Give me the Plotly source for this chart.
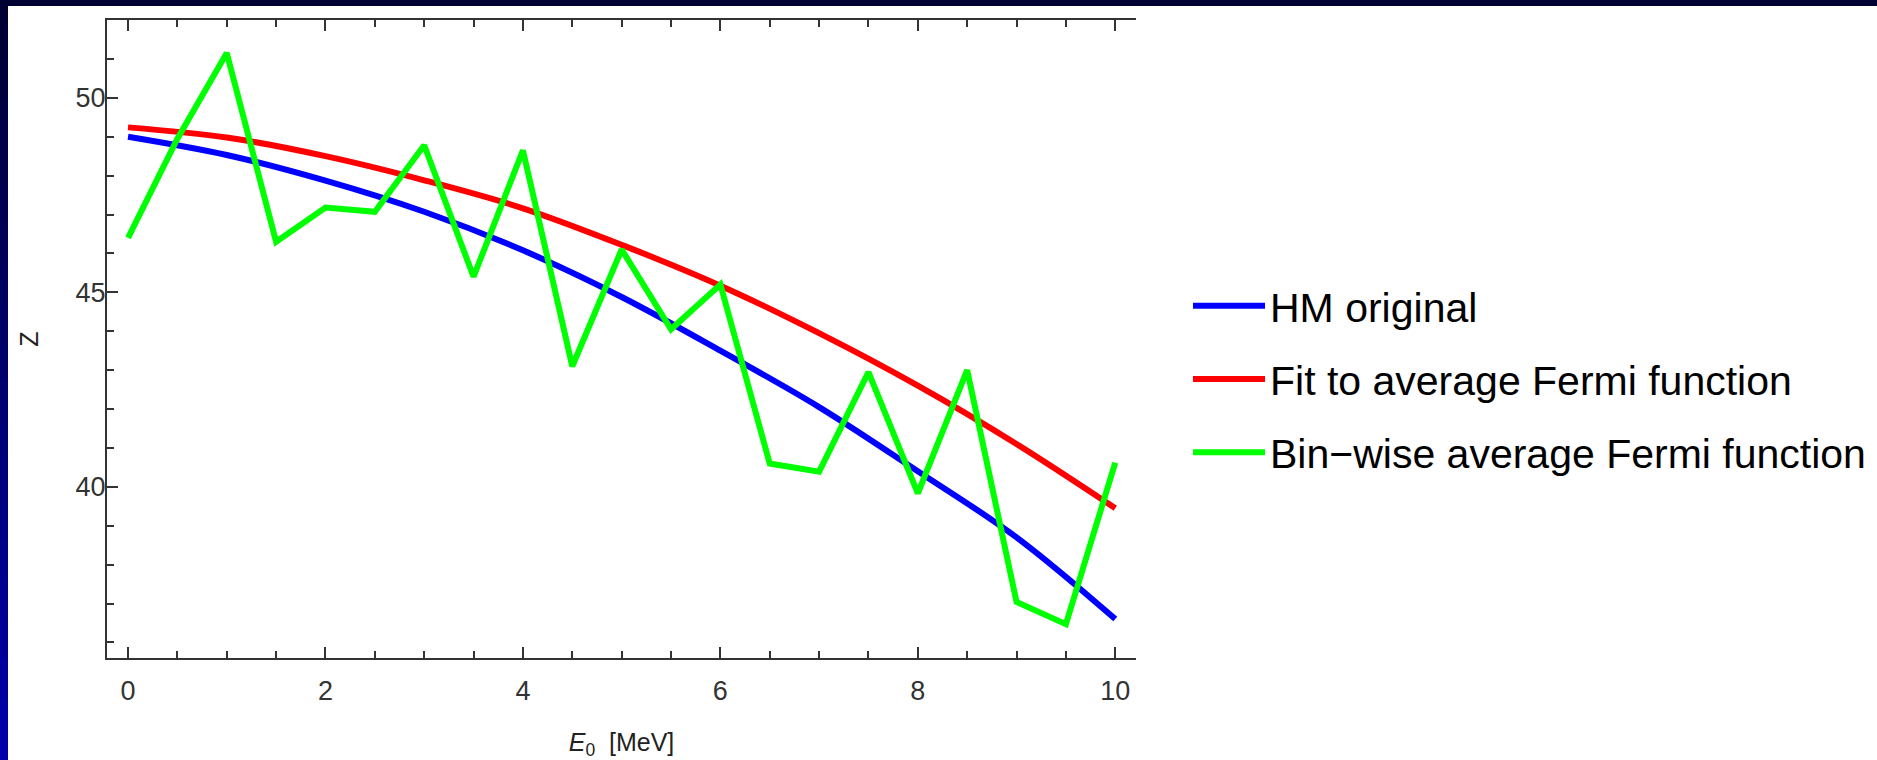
import plotly.graph_objects as go

# ---- data ----
energy_bins = [0, 0.5, 1, 1.5, 2, 2.5, 3, 3.5, 4, 4.5, 5, 5.5, 6, 6.5, 7, 7.5, 8, 8.5, 9, 9.5, 10]
z_binwise = [46.4, 48.95, 51.15, 46.3, 47.18, 47.07, 48.78, 45.4, 48.65, 43.1, 46.1,
             44.05, 45.2, 40.6, 40.39, 42.95, 39.83, 43.0, 37.04, 36.47, 40.62]

energy_curve = [0, 1, 2, 3, 4, 5, 6, 7, 8, 9, 10]
z_hm_original = [49.0, 48.53, 47.87, 47.07, 46.08, 44.88, 43.5, 42.05, 40.4, 38.7, 36.6]
z_fit_average = [49.24, 48.98, 48.5, 47.88, 47.16, 46.22, 45.17, 43.95, 42.6, 41.1, 39.45]

series_names = ["HM original", "Fit to average Fermi function", "Bin\u2212wise average Fermi function"]
x_tick_labels = ["0", "2", "4", "6", "8", "10"]
y_tick_labels = ["40", "45", "50"]

# ---- layout geometry (pixels) ----
W, H = 1877, 760
L, R, T, B = 107, 1136, 20, 658


def px_x(p):
    return (p - L) / (R - L)


def px_y(p):
    return (B - p) / (B - T)


FONT = "Liberation Sans, Arial, Helvetica, sans-serif"
AX = "#333333"
LW = 6

fig = go.Figure()
fig.add_trace(go.Scatter(x=energy_curve, y=z_hm_original, mode="lines", name=series_names[0],
                         line=dict(color="#0000ff", width=LW, shape="spline"), legendgroup="a"))
fig.add_trace(go.Scatter(x=energy_curve, y=z_fit_average, mode="lines", name=series_names[1],
                         line=dict(color="#ff0000", width=LW, shape="spline"), legendgroup="b"))
fig.add_trace(go.Scatter(x=energy_bins, y=z_binwise, mode="lines", name=series_names[2],
                         line=dict(color="#00ff00", width=LW), legendgroup="c"))

# decorative slide frame: dark top strip and blue gradient strip on the left
shapes = [dict(type="rect", xref="paper", yref="paper", x0=px_x(0), x1=px_x(W), y0=px_y(0), y1=px_y(6),
               fillcolor="#000033", line=dict(width=0), layer="above")]
n = 38
for i in range(n):
    t = i / (n - 1)
    col = "rgb(0,0,%d)" % int(51 + t * (170 - 51))
    shapes.append(dict(type="rect", xref="paper", yref="paper",
                       x0=px_x(0), x1=px_x(8), y0=px_y(i * H / n), y1=px_y((i + 1) * H / n + 1),
                       fillcolor=col, line=dict(width=0), layer="above"))

fig.update_layout(
    width=W, height=H,
    margin=dict(l=L, r=W - R, t=T, b=H - B, pad=0, autoexpand=False),
    paper_bgcolor="white", plot_bgcolor="white",
    font=dict(family=FONT, color="#222222"),
    showlegend=True,
    legend=dict(x=px_x(1188), xanchor="left", y=px_y(379), yanchor="middle",
                font=dict(size=41, color="#000000", family=FONT),
                bgcolor="rgba(0,0,0,0)", borderwidth=0, tracegroupgap=17,
                itemwidth=72, traceorder="grouped"),
    shapes=shapes,
    xaxis=dict(range=[-0.213, 10.21], tickmode="array", tickvals=[0, 2, 4, 6, 8, 10],
               ticktext=x_tick_labels, ticks="inside", ticklen=11, tickwidth=2, tickcolor=AX,
               minor=dict(dtick=0.5, tick0=0, ticks="inside", ticklen=7, tickwidth=2, tickcolor=AX, showgrid=False),
               showline=True, linecolor=AX, linewidth=2, mirror="ticks",
               showgrid=False, zeroline=False,
               tickfont=dict(size=27, color="#333333"), ticklabelstandoff=8,
               title=dict(text="<i>E</i><sub>0</sub>  [MeV]", font=dict(size=25, color="#222222"), standoff=40)),
    yaxis=dict(range=[35.6, 52.0], tickmode="array", tickvals=[40, 45, 50], ticktext=y_tick_labels,
               ticks="inside", ticklen=11, tickwidth=2, tickcolor=AX,
               minor=dict(dtick=1, tick0=0, ticks="inside", ticklen=7, tickwidth=2, tickcolor=AX, showgrid=False),
               showline=True, linecolor=AX, linewidth=2, mirror=False,
               showgrid=False, zeroline=False,
               tickfont=dict(size=27, color="#333333"), ticklabelstandoff=-6,
               title=dict(text="Z", font=dict(size=25, color="#222222"), standoff=30)),
    yaxis2=dict(range=[35.6, 52.0], overlaying="y", side="right", matches="y",
                dtick=2.5, tick0=0, ticks="inside", ticklen=9, tickwidth=2, tickcolor=AX,
                minor=dict(dtick=0.5, tick0=0, ticks="inside", ticklen=6, tickwidth=2, tickcolor=AX, showgrid=False),
                showticklabels=False, showline=True, linecolor=AX, linewidth=2,
                showgrid=False, zeroline=False),
)

fig.write_html("out.html")
